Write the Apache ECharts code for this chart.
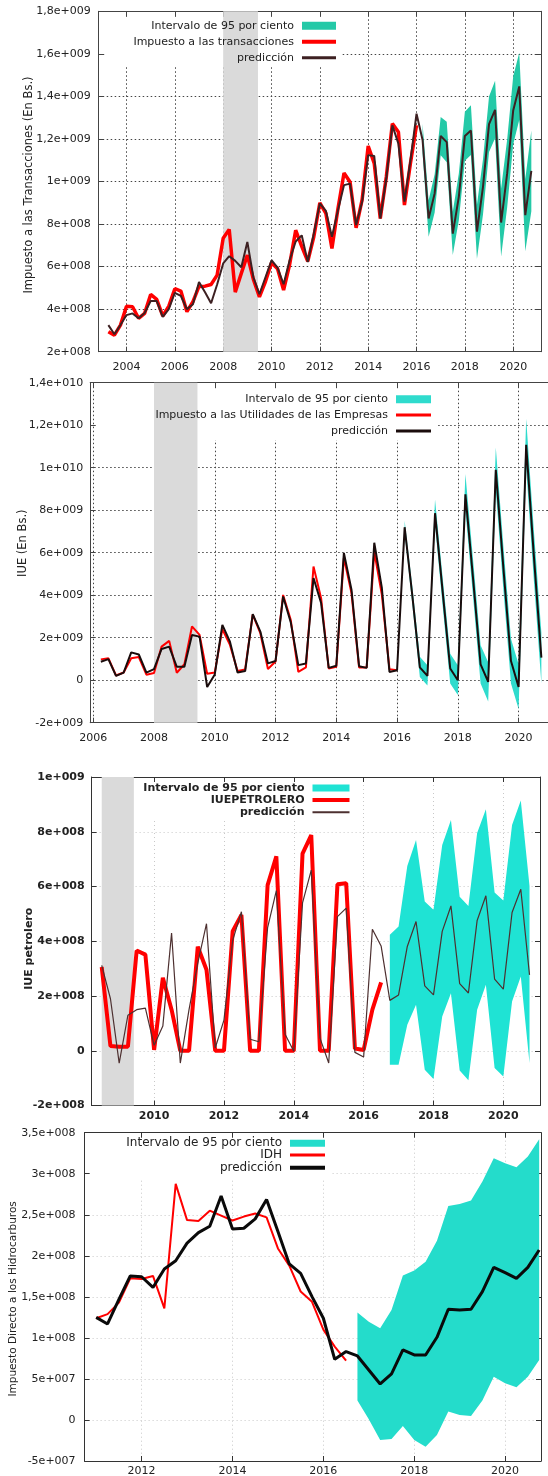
<!DOCTYPE html>
<html>
<head>
<meta charset="utf-8">
<title>Pronósticos de recaudación</title>
<script src="https://cdn.jsdelivr.net/npm/echarts@6/dist/echarts.min.js"></script>
<style>
  body { margin: 0; background: #fff; }
  .chart { position: absolute; left: 0; width: 548px; }
</style>
</head>
<body>
<div id="c1" class="chart" style="top:0;height:376px"></div>
<div id="c2" class="chart" style="top:376px;height:376px"></div>
<div id="c3" class="chart" style="top:752px;height:374px"></div>
<div id="c4" class="chart" style="top:1126px;height:350px"></div>
<script>
// ---- tick labels (years) ----
const yearsTrx = [2004, 2006, 2008, 2010, 2012, 2014, 2016, 2018, 2020];
const yearsIue = [2006, 2008, 2010, 2012, 2014, 2016, 2018, 2020];
const yearsPet = [2010, 2012, 2014, 2016, 2018, 2020];
const yearsIdh = [2012, 2014, 2016, 2018, 2020];

// ---- 1. Impuesto a las transacciones (x 1e8), quarterly from 2003.25 ----
const trxReal = [2.94, 2.78, 3.25, 4.14, 4.11, 3.57, 3.8, 4.69, 4.46, 3.68, 4.14, 4.96, 4.85, 3.88, 4.35, 5.07,
  5.08, 5.16, 5.6, 7.33, 7.75, 4.8, 5.68, 6.54, 5.4, 4.58, 5.3, 6.18, 5.9, 4.9, 6.1, 7.71,
  6.95, 6.25, 7.4, 9.0, 8.5, 6.85, 8.73, 10.4, 9.98, 7.82, 9.15, 11.67, 10.85, 8.26, 10.22, 12.72,
  12.33, 8.89, 10.87, 12.64];
const trxPred = [3.25, 2.82, 3.25, 3.72, 3.8, 3.57, 3.82, 4.38, 4.38, 3.64, 4.0, 4.77, 4.62, 4.0, 4.23, 5.28,
  4.79, 4.28, 5.16, 6.15, 6.49, 6.27, 5.97, 7.16, 5.5, 4.7, 5.5, 6.3, 5.95, 5.17, 6.3, 7.18,
  7.47, 6.22, 7.56, 8.97, 8.62, 7.4, 8.65, 9.83, 9.9, 7.95, 9.05, 11.24, 11.2, 8.26, 10.14, 12.64,
  11.78, 9.05, 11.0, 13.19, 11.95, 8.26, 9.44, 12.14, 11.85, 7.55, 9.28, 12.14, 12.4, 7.64, 9.75, 12.7,
  13.37, 8.07, 10.38, 13.34, 14.47, 8.42, 10.5];
const trxUpper = [12.72, 9.12, 10.34, 13.03, 12.81, 8.58, 10.38, 13.28, 13.58, 8.91, 11.05, 13.99, 14.73, 9.67,
  11.98, 14.95, 16.05, 10.12, 12.4];
const trxLower = [11.32, 7.4, 8.54, 11.23, 10.91, 6.54, 8.18, 10.98, 11.24, 6.37, 8.45, 11.39, 12.03, 6.47,
  8.78, 11.75, 12.89, 6.72, 8.6];

// ---- 2. IUE (x 1e9), quarterly from 2006.25 ----
const iueReal = [0.98, 1.03, 0.22, 0.36, 1.03, 1.09, 0.26, 0.34, 1.58, 1.85, 0.35, 0.75, 2.53, 2.13, 0.3, 0.36,
  2.4, 1.66, 0.43, 0.51, 3.09, 2.21, 0.53, 0.88, 4.01, 2.84, 0.39, 0.6, 5.35, 3.86, 0.55, 0.63,
  5.76, 4.1, 0.6, 0.6, 6.04, 4.02, 0.52, 0.47];
const iuePred = [0.87, 0.99, 0.2, 0.36, 1.31, 1.21, 0.36, 0.52, 1.47, 1.58, 0.63, 0.63, 2.13, 2.05, -0.32, 0.27,
  2.6, 1.81, 0.36, 0.43, 3.11, 2.29, 0.79, 0.9, 3.94, 2.73, 0.71, 0.79, 4.81, 3.63, 0.58, 0.68,
  5.99, 4.26, 0.66, 0.58, 6.47, 4.34, 0.39, 0.47, 7.2, 4.02, 0.6, 0.2, 7.86, 4.18, 0.55, 0.0,
  8.75, 4.81, 0.74, -0.08, 9.9, 5.28, 0.9, -0.32, 11.08, 5.91, 1.06];
const iueUpper = [7.5, 4.45, 1.1, 0.7, 8.5, 4.85, 1.25, 0.7, 9.7, 5.7, 1.65, 0.85, 10.95, 6.3, 1.95, 0.75,
  12.3, 7.1, 2.25];
const iueLower = [6.9, 3.6, 0.15, -0.25, 7.3, 3.5, -0.15, -0.7, 8.0, 3.95, -0.15, -1.0, 8.95, 4.25, -0.15, -1.35,
  10.0, 4.75, -0.15];

// ---- 3. IUE petrolero (x 1e8), quarterly from 2008.5 ----
const petReal = [3.06, 0.17, 0.15, 0.15, 3.66, 3.51, 0.03, 2.67, 1.5, 0, 0, 3.8, 2.96, 0, 0, 4.37,
  4.96, 0, 0, 6.05, 7.1, 0, 0, 7.2, 7.88, 0, 0, 6.08, 6.12, 0.08, 0.03, 1.5, 2.5];
const petPred = [3.12, 1.9, -0.45, 1.3, 1.5, 1.56, 0.2, 0.9, 4.3, -0.45, 1.5, 3.2, 4.64, 0.1, 1.12, 4.03,
  5.08, 0.42, 0.33, 4.5, 5.85, 0.6, -0.02, 5.4, 6.6, 0.46, -0.45, 4.9, 5.21, -0.06, -0.23, 4.44,
  3.83, 1.84, 2.04, 3.81, 4.72, 2.37, 2.04, 4.36, 5.29, 2.45, 2.11, 4.76, 5.66, 2.62, 2.25, 5.05,
  5.9, 2.77];
const petUpper = [4.24, 4.54, 6.75, 7.7, 5.45, 5.15, 7.52, 8.43, 5.63, 5.29, 7.95, 8.82, 5.78, 5.49, 8.25, 9.14, 6.02];
const petLower = [-0.51, -0.51, 0.95, 1.68, -0.69, -1.03, 1.25, 2.1, -0.72, -1.08, 1.5, 2.41, -0.63, -0.94, 1.8, 2.71, -0.45];

// ---- 4. IDH (x 1e8), quarterly from 2011.0 ----
const idhReal = [1.24, 1.29, 1.43, 1.726, 1.718, 1.755, 1.36, 2.876, 2.435, 2.425, 2.55, 2.49, 2.43, 2.478, 2.515, 2.468,
  2.09, 1.88, 1.565, 1.44, 1.1, 0.894, 0.723];
const idhPred = [1.25, 1.17, 1.47, 1.755, 1.745, 1.615, 1.84, 1.94, 2.155, 2.283, 2.36, 2.729, 2.327, 2.336, 2.45, 2.685,
  2.295, 1.901, 1.787, 1.503, 1.239, 0.739, 0.833, 0.78, 0.609, 0.439, 0.561, 0.853, 0.792, 0.792, 1.007, 1.349,
  1.34, 1.349, 1.564, 1.86, 1.795, 1.726, 1.86, 2.071];
const idhUpper = [1.308, 1.198, 1.117, 1.34, 1.759, 1.82, 1.929, 2.185, 2.608, 2.632, 2.673, 2.904, 3.188, 3.128,
  3.079, 3.209, 3.42];
const idhLower = [0.236, 0.008, -0.244, -0.232, -0.073, -0.244, -0.325, -0.183, 0.102, 0.061, 0.049, 0.236, 0.528,
  0.447, 0.398, 0.528, 0.731];

const BAND = "Intervalo de 95 por ciento";
const PRED = "predicción";

function quarters(start, n) {
  let arr = [];
  for (let i = 0; i < n; i++) arr.push(start + 0.25 * i);
  return arr;
}

function pairs(dates, vals, scale) {
  return vals.map((v, i) => [dates[i], v * scale]);
}

// gnuplot style numbers: 1,8e+009
function sci(v) {
  if (Math.abs(v) < 1e-6) return "0";
  const e = Math.floor(Math.log10(Math.abs(v)) + 1e-9);
  const m = Math.round((v / Math.pow(10, e)) * 10) / 10;
  return String(m).replace(".", ",") + "e" + (e < 0 ? "-" : "+") + String(Math.abs(e)).padStart(3, "0");
}

function setChart(c) {
  const font = {
    fontFamily: "DejaVu Sans",
    fontSize: 11,
    fontWeight: c.bold ? "bold" : "normal",
    color: "#222"
  };
  const axisLine = { show: true, onZero: false, lineStyle: { color: c.axisColor, width: 1 } };
  const tick = { show: true, inside: true, length: 5, lineStyle: { color: c.axisColor } };
  const grid = { type: c.gridType, color: c.gridColor, width: 1 };
  const s = c.scale;

  const dReal = quarters(c.realStart, c.real.length);
  const dPred = quarters(c.predStart, c.pred.length);
  const dBand = quarters(c.bandStart, c.upper.length);
  // [x, lower, upper] rows of the forecast interval
  const bandRows = dBand.map((x, i) => [x, c.lower[i] * s, c.upper[i] * s]);

  const legendRow = (row, name, h) => ({
    data: [{ name: name, icon: "rect" }],
    orient: "vertical",
    align: "right",
    right: c.legend.right,
    top: c.legend.tops[row],
    padding: 0,
    itemWidth: c.legend.w,
    itemHeight: h,
    selectedMode: false,
    textStyle: {
      fontFamily: "DejaVu Sans",
      fontSize: c.legend.fontSize,
      fontWeight: c.bold ? "bold" : "normal",
      color: "#222",
      lineHeight: c.legend.lh,
      padding: [0, 3, 0, 0]
    }
  });

  let option = {
    animation: false,
    grid: Object.assign({ containLabel: false, outerBoundsMode: "none" }, c.grid),
    graphic: [
      {
        type: "rect",
        z: 0.5,
        silent: true,
        shape: { x: c.box[0], y: c.box[1], width: c.box[2], height: c.box[3] },
        style: { fill: "#fff" }
      }
    ],
    legend: [
      legendRow(0, BAND, c.legend.hs[0]),
      legendRow(1, c.realName, c.legend.hs[1]),
      legendRow(2, PRED, c.legend.hs[2])
    ],
    xAxis: [
      {
        type: "value",
        min: c.xMin,
        max: c.xMax,
        position: "bottom",
        axisLine: axisLine,
        axisTick: Object.assign({ customValues: c.years }, tick),
        axisLabel: Object.assign({ customValues: c.years, margin: c.xMargin, formatter: (v) => String(Math.round(v)) }, font),
        splitLine: { show: true, lineStyle: grid }
      },
      {
        type: "value",
        min: c.xMin,
        max: c.xMax,
        position: "top",
        axisLine: axisLine,
        axisTick: Object.assign({ customValues: c.years }, tick),
        axisLabel: { show: false },
        splitLine: { show: false }
      }
    ],
    yAxis: [
      {
        type: "value",
        min: c.yMin,
        max: c.yMax,
        interval: c.yStep,
        position: "left",
        axisLine: axisLine,
        axisTick: tick,
        axisLabel: Object.assign({ margin: c.yMargin, formatter: sci }, font),
        splitLine: { show: true, lineStyle: grid },
        name: c.yName,
        nameLocation: "middle",
        nameGap: c.yNameGap,
        nameMoveOverlap: false,
        nameTextStyle: {
          fontFamily: "DejaVu Sans",
          fontSize: c.yNameSize,
          fontWeight: c.bold ? "bold" : "normal",
          color: "#222",
          padding: c.yNamePad
        }
      },
      {
        type: "value",
        min: c.yMin,
        max: c.yMax,
        interval: c.yStep,
        position: "right",
        axisLine: axisLine,
        axisTick: tick,
        axisLabel: { show: false },
        splitLine: { show: false }
      }
    ],
    series: [
      {
        name: "crisis",
        type: "line",
        data: [],
        z: 1,
        markArea: c.shade
          ? {
              silent: true,
              itemStyle: { color: "#dadada" },
              data: [[{ xAxis: c.shade[0] }, { xAxis: c.shade[1] }]]
            }
          : undefined
      },
      {
        // filled band between lower and upper limits, drawn once as a polygon
        name: BAND,
        type: "custom",
        z: 2,
        silent: true,
        itemStyle: { color: c.bandColor },
        encode: { x: 0, y: [1, 2] },
        data: bandRows,
        renderItem: function (params, api) {
          if (params.dataIndex !== 0) return null;
          let top = [];
          let bottom = [];
          bandRows.forEach((r) => {
            top.push(api.coord([r[0], r[2]]));
            bottom.unshift(api.coord([r[0], r[1]]));
          });
          return {
            type: "polygon",
            shape: { points: top.concat(bottom) },
            style: { fill: c.bandColor }
          };
        }
      },
      {
        name: c.realName,
        type: "line",
        symbol: "none",
        z: 3,
        lineStyle: { color: "#ff0000", width: c.realWidth },
        itemStyle: { color: "#ff0000" },
        data: pairs(dReal, c.real, s)
      },
      {
        name: PRED,
        type: "line",
        symbol: "none",
        z: 4,
        lineStyle: { color: c.predColor, width: c.predWidth },
        itemStyle: { color: c.predColor },
        data: pairs(dPred, c.pred, s)
      }
    ]
  };

  let myChart = echarts.init(document.getElementById(c.el), null, { renderer: "canvas" });
  myChart.setOption(option);
}

setChart({
  el: "c1", scale: 1e8, bold: false,
  grid: { left: 98.7, top: 11.3, right: 7, bottom: 24.3 },
  xMin: 2002.85, xMax: 2021.15, years: yearsTrx, xMargin: 10,
  yMin: 2e8, yMax: 1.8e9, yStep: 2e8, yMargin: 8,
  yName: "Impuesto a las Transacciones (En Bs.)", yNameGap: 64, yNameSize: 11.5, yNamePad: [0, 7, 0, 0],
  axisColor: "#444", gridColor: "#444", gridType: [1.5, 2.5],
  realName: "Impuesto a las transacciones", real: trxReal, realStart: 2003.25, realWidth: 3.5,
  pred: trxPred, predStart: 2003.25, predColor: "#3d2022", predWidth: 2,
  upper: trxUpper, lower: trxLower, bandStart: 2016.25, bandColor: "#24c9a7",
  shade: [2008, 2009.44],
  box: [105, 17, 237, 49],
  legend: { right: 212, tops: [17.7, 33.7, 49.7], lh: 16, w: 34, hs: [8, 4, 3], fontSize: 11 }
});

setChart({
  el: "c2", scale: 1e9, bold: false,
  grid: { left: 90.2, top: 6.7, right: -4, bottom: 29.3 },
  xMin: 2005.9, xMax: 2021.1, years: yearsIue, xMargin: 10,
  yMin: -2e9, yMax: 1.4e10, yStep: 2e9, yMargin: 7,
  yName: "IUE (En Bs.)", yNameGap: 61, yNameSize: 11.5, yNamePad: [0, 0, 0, 19],
  axisColor: "#444", gridColor: "#444", gridType: [1.5, 2.5],
  realName: "Impuesto a las Utilidades de las Empresas", real: iueReal, realStart: 2006.25, realWidth: 2,
  pred: iuePred, predStart: 2006.25, predColor: "#1a0c0c", predWidth: 2,
  upper: iueUpper, lower: iueLower, bandStart: 2016.25, bandColor: "#2fdbcd",
  shade: [2008, 2009.43],
  box: [96, 13, 341, 51],
  legend: { right: 117, tops: [15.3, 31, 47], lh: 16, w: 35, hs: [8, 3, 3], fontSize: 11 }
});

setChart({
  el: "c3", scale: 1e8, bold: true,
  grid: { left: 91.6, top: 25, right: 8, bottom: 20.5 },
  xMin: 2008.21, xMax: 2021.05, years: yearsPet, xMargin: 5,
  yMin: -2e8, yMax: 1e9, yStep: 2e8, yMargin: 7,
  yName: "IUE petrolero", yNameGap: 57, yNameSize: 11, yNamePad: [0, 15, 0, 0],
  axisColor: "#333", gridColor: "#c8c8c8", gridType: [1, 3],
  realName: "IUEPETROLERO", real: petReal, realStart: 2008.5, realWidth: 4,
  pred: petPred, predStart: 2008.5, predColor: "#4d3030", predWidth: 1.2,
  upper: petUpper, lower: petLower, bandStart: 2016.75, bandColor: "#1fe3d4",
  shade: [2008.5, 2009.42],
  box: [98, 31, 258, 37],
  legend: { right: 198.5, tops: [30, 42, 54.3], lh: 12, w: 37, hs: [7, 4, 2], fontSize: 11 }
});

setChart({
  el: "c4", scale: 1e8, bold: false,
  grid: { left: 84.6, top: 6.7, right: 7, bottom: 15 },
  xMin: 2010.745, xMax: 2020.79, years: yearsIdh, xMargin: 5,
  yMin: -5e7, yMax: 3.5e8, yStep: 5e7, yMargin: 9,
  yName: "Impuesto Directo a los Hidrocarburos", yNameGap: 65.5, yNameSize: 10.5, yNamePad: [0, 4, 0, 0],
  axisColor: "#333", gridColor: "#c8c8c8", gridType: [1, 3],
  realName: "IDH", real: idhReal, realStart: 2011.0, realWidth: 2,
  pred: idhPred, predStart: 2011.0, predColor: "#0a0a0a", predWidth: 3,
  upper: idhUpper, lower: idhLower, bandStart: 2016.75, bandColor: "#24dccb",
  shade: null,
  box: [91, 13, 239, 39],
  legend: { right: 223, tops: [11.3, 23, 35.7], lh: 12, w: 35, hs: [7, 3, 4], fontSize: 12 }
});
</script>
</body>
</html>
